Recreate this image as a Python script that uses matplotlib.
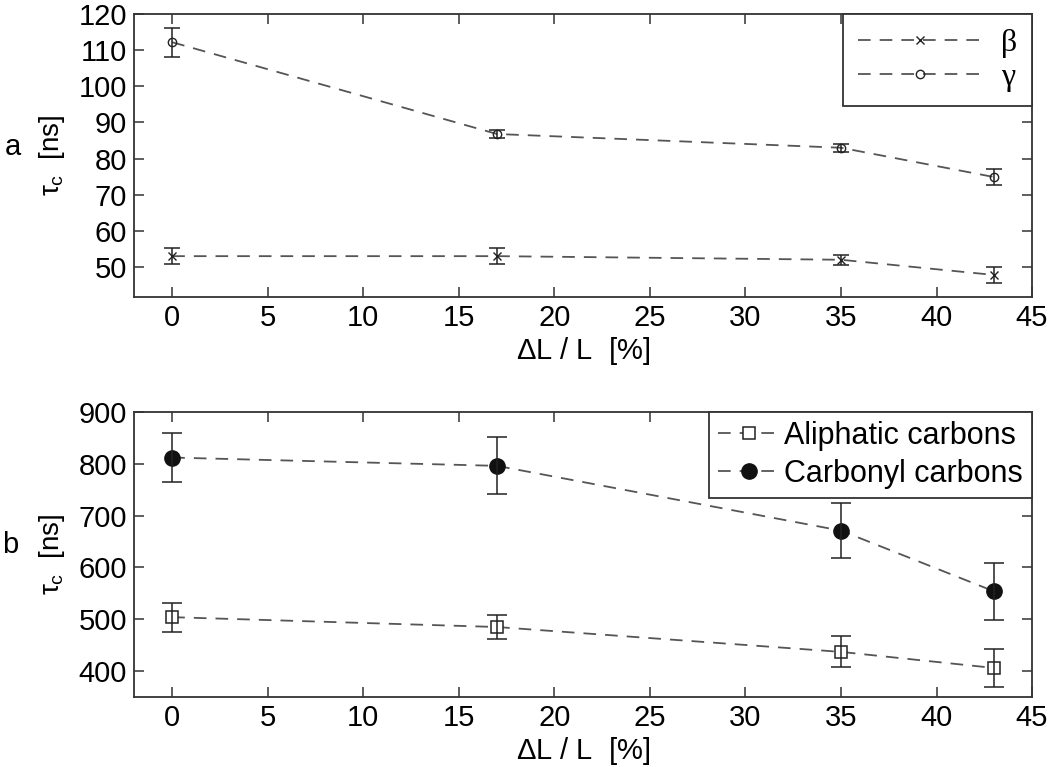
import numpy as np
import matplotlib.pyplot as plt

plt.rcParams['font.family'] = ['Liberation Sans', 'DejaVu Sans']
plt.rcParams['mathtext.fontset'] = 'custom'
plt.rcParams['mathtext.rm'] = 'Liberation Sans'
plt.rcParams['mathtext.it'] = 'Liberation Sans'

# === 数据 ===
strain = [0, 17, 35, 43]

beta = [53.0, 53.0, 52.0, 47.8]
beta_err = [2.2, 2.2, 1.4, 2.2]
gamma = [112.2, 86.8, 83.0, 74.9]
gamma_err = [4.0, 1.1, 1.1, 2.3]

aliphatic = [504, 485, 437, 406]
aliphatic_err = [28, 23, 30, 36]
carbonyl = [812, 796, 671, 554]
carbonyl_err = [48, 55, 53, 55]

line_col = '#555555'
edge_col = '#333333'
dash = (0, (7, 5))

def style_axes(ax, ylim, yticks):
    ax.set_xlim(-2, 45)
    ax.set_xticks(np.arange(0, 46, 5))
    ax.set_ylim(*ylim)
    ax.set_yticks(yticks)
    ax.tick_params(direction='in', length=7, width=1.1, top=True, right=True,
                   labelsize=21, color=edge_col, pad=5)
    for sp in ax.spines.values():
        sp.set_color(edge_col)
        sp.set_linewidth(1.3)
    ax.set_xlabel(r'$\Delta$L / L  [%]', fontsize=21, labelpad=2)
    ax.set_ylabel(r'$\tau_c$  [ns]', fontsize=20)
    ax.yaxis.set_label_coords(-0.075, 0.5)

fig = plt.figure(figsize=(10.5, 7.67), dpi=100)
ax1 = fig.add_axes([0.1276, 0.6128, 0.8553, 0.3689])
ax2 = fig.add_axes([0.1276, 0.0913, 0.8553, 0.3716])

# 上图: beta / gamma
l_b, = ax1.plot(strain, beta, linestyle=dash, color=line_col, lw=1.3,
                marker='x', ms=6, mec='#222222', mew=1.0)
ax1.errorbar(strain, beta, yerr=beta_err, fmt='none', ecolor='#222222',
             elinewidth=1.1, capsize=6, capthick=1.1)
l_g, = ax1.plot(strain, gamma, linestyle=dash, color=line_col, lw=1.3,
                marker='o', ms=6, mfc='none', mec='#222222', mew=1.0)
ax1.errorbar(strain, gamma, yerr=gamma_err, fmt='none', ecolor='#222222',
             elinewidth=1.1, capsize=6, capthick=1.1)
style_axes(ax1, (41.7, 120), np.arange(50, 121, 10))
leg1 = ax1.legend([l_b, l_g], ['β', 'γ'], loc='upper right', borderaxespad=0,
                  fancybox=False, framealpha=1, edgecolor=edge_col,
                  handlelength=3.9, handletextpad=0.6, labelspacing=0.15,
                  borderpad=0.45, prop={'family': 'Liberation Serif', 'size': 23})
leg1.get_frame().set_linewidth(1.3)

# 下图: aliphatic / carbonyl
l_a, = ax2.plot(strain, aliphatic, linestyle=dash, color=line_col, lw=1.3,
                marker='s', ms=9, mfc='white', mec='#222222', mew=1.1)
ax2.errorbar(strain, aliphatic, yerr=aliphatic_err, fmt='none', ecolor='#222222',
             elinewidth=1.1, capsize=7, capthick=1.1)
l_c, = ax2.plot(strain, carbonyl, linestyle=dash, color=line_col, lw=1.3,
                marker='o', ms=11, mfc='#111111', mec='#111111')
ax2.errorbar(strain, carbonyl, yerr=carbonyl_err, fmt='none', ecolor='#222222',
             elinewidth=1.1, capsize=7, capthick=1.1)
style_axes(ax2, (350, 900), np.arange(400, 901, 100))
leg2 = ax2.legend([l_a, l_c], ['Aliphatic carbons', 'Carbonyl carbons'],
                  loc='upper right', borderaxespad=0, fancybox=False, framealpha=1,
                  edgecolor=edge_col, handlelength=2.0, handletextpad=0.15,
                  labelspacing=0.25, borderpad=0.3, fontsize=22)
leg2.get_frame().set_linewidth(1.3)

fig.text(13 / 1050, 1 - 147 / 767, 'a', fontsize=21, ha='center', va='center')
fig.text(10 / 1050, 1 - 545 / 767, 'b', fontsize=21, ha='center', va='center')

plt.savefig('out.png', dpi=100)
